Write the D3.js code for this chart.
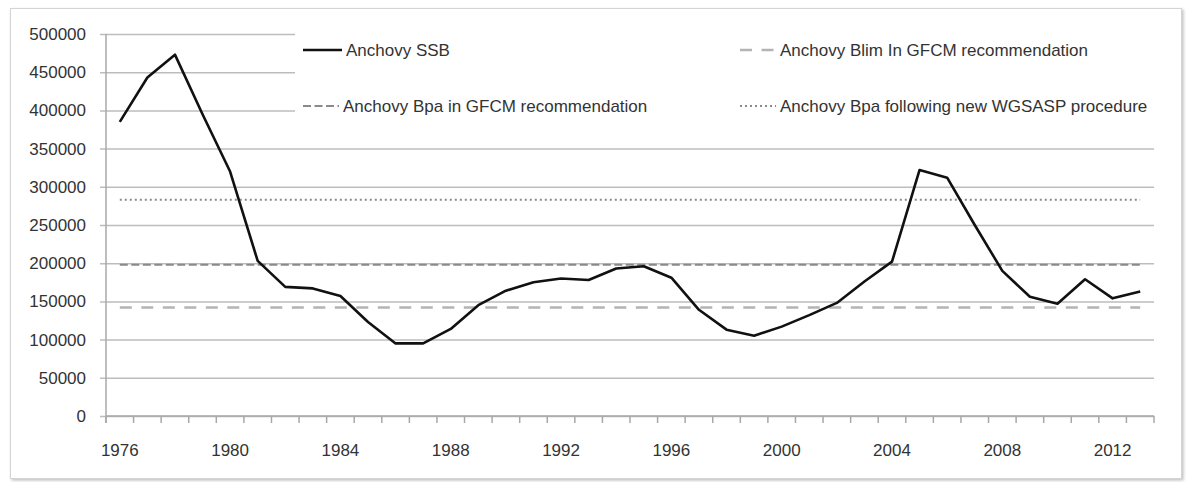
<!DOCTYPE html>
<html>
<head>
<meta charset="utf-8">
<script src="https://cdn.jsdelivr.net/npm/d3@7"></script>
<style>
  body { margin: 0; background: #fff; }
  svg text { font-family: "Liberation Sans", Arial, sans-serif; fill: #333; }
</style>
</head>
<body>
<svg id="chart" width="1186" height="482"></svg>
<script>
// years on the category axis
var years = d3.range(1976, 2014);

// spawning stock biomass
var ssb = [385000, 443000, 473000, 395000, 320000, 203000, 169000, 167000, 157000, 123000,
           95000, 95000, 114000, 145000, 164000, 175000, 180000, 178000, 193000, 196000,
           181000, 139000, 113000, 105000, 117000, 132000, 148000, 176000, 202000, 322000,
           312000, 250000, 190000, 156000, 147000, 179000, 154000, 163000];

// reference points
var refNames  = ["Anchovy Blim In GFCM recommendation", "Anchovy Bpa in GFCM recommendation", "Anchovy Bpa following new WGSASP procedure"];
var refValues = [142000, 198000, 283000];

var yTicks = [0, 50000, 100000, 150000, 200000, 250000, 300000, 350000, 400000, 450000, 500000];
var xLabelYears = [1976, 1980, 1984, 1988, 1992, 1996, 2000, 2004, 2008, 2012];

var margin = {left: 106, right: 32, top: 34, bottom: 66};
var W = 1186, H = 482;

var svg = d3.select("#chart");

var defs = svg.append("defs");
var f = defs.append("filter").attr("id", "shadow").attr("x", "-2%").attr("y", "-2%").attr("width", "104%").attr("height", "106%");
f.append("feDropShadow").attr("dx", 1.5).attr("dy", 1.5).attr("stdDeviation", 1.5).attr("flood-color", "#000").attr("flood-opacity", 0.25);

// frame
svg.append("rect")
    .attr("x", 10.5).attr("y", 8.5)
    .attr("width", 1171).attr("height", 470)
    .attr("fill", "#fff")
    .attr("stroke", "#d4d4d4")
    .attr("filter", "url(#shadow)");

var x = d3.scaleBand()
    .domain(years)
    .range([margin.left, W - margin.right]);

var y = d3.scaleLinear()
    .domain([0, 500000])
    .range([H - margin.bottom, margin.top]);

var cx = function(yr){ return x(yr) + x.bandwidth() / 2; };

// horizontal gridlines + y ticks
var yAxis = d3.axisLeft(y)
    .tickValues(yTicks)
    .tickSize(-(W - margin.right - margin.left) - 6)
    .tickSizeOuter(0)
    .tickPadding(14)
    .tickFormat(d3.format("d"));

var gy = svg.append("g")
    .attr("transform", "translate(" + (margin.left - 6) + ",0)")
    .call(yAxis);
gy.select(".domain").remove();
gy.selectAll(".tick line")
    .attr("stroke", "#bdbdbd")
    .attr("stroke-width", 1.5);
gy.selectAll(".tick text")
    .attr("x", -(14))
    .style("font-size", "17px");

// y axis line
svg.append("line")
    .attr("x1", margin.left).attr("x2", margin.left)
    .attr("y1", margin.top).attr("y2", y(0) + 7)
    .attr("stroke", "#a8a8a8").attr("stroke-width", 1.5);

// x axis: ticks at category boundaries
var bounds = years.map(function(d){ return x(d); }).concat([W - margin.right]);
svg.append("g").selectAll("line")
    .data(bounds)
    .enter().append("line")
    .attr("x1", function(d){ return d; })
    .attr("x2", function(d){ return d; })
    .attr("y1", y(0))
    .attr("y2", y(0) + 7)
    .attr("stroke", "#a8a8a8")
    .attr("stroke-width", 1.5);

svg.append("line")
    .attr("x1", margin.left).attr("x2", W - margin.right)
    .attr("y1", y(0)).attr("y2", y(0))
    .attr("stroke", "#a8a8a8").attr("stroke-width", 1.5);

svg.append("g").selectAll("text")
    .data(xLabelYears)
    .enter().append("text")
    .attr("x", function(d){ return cx(d); })
    .attr("y", y(0) + 40)
    .attr("text-anchor", "middle")
    .style("font-size", "17px")
    .text(function(d){ return d; });

// legend background hides the gridlines behind it
svg.append("rect")
    .attr("x", 295).attr("y", 20)
    .attr("width", 870).attr("height", 106)
    .attr("fill", "#fff");

var refStyles = [
    {color: "#b4b4b4", dash: "12,9.5", width: 2.5},
    {color: "#8a8a8a", dash: "8,3.5",  width: 2.2},
    {color: "#8a8a8a", dash: "2,3",    width: 2}
];

// reference lines
svg.append("g").selectAll("line")
    .data(refValues)
    .enter().append("line")
    .attr("x1", cx(years[0]))
    .attr("x2", cx(years[years.length - 1]))
    .attr("y1", function(d){ return y(d); })
    .attr("y2", function(d){ return y(d); })
    .attr("stroke", function(d, i){ return refStyles[i].color; })
    .attr("stroke-width", function(d, i){ return refStyles[i].width; })
    .attr("stroke-dasharray", function(d, i){ return refStyles[i].dash; });

// SSB line
var line = d3.line()
    .x(function(d, i){ return cx(years[i]); })
    .y(function(d){ return y(d); });

svg.append("path")
    .datum(ssb)
    .attr("d", line)
    .attr("fill", "none")
    .attr("stroke", "#111")
    .attr("stroke-width", 2.6)
    .attr("stroke-linejoin", "round");

// legend
var legendItems = [
    {name: "Anchovy SSB", x: 303, y: 50, color: "#111", dash: null, width: 2.6, w: 39},
    {name: refNames[1], x: 303, y: 106, color: refStyles[1].color, dash: "8,3.5", width: 2, w: 36},
    {name: refNames[0], x: 740, y: 50, color: refStyles[0].color, dash: "12,9.5", width: 2.5, w: 36},
    {name: refNames[2], x: 740, y: 106, color: refStyles[2].color, dash: "2,3", width: 2, w: 36}
];

var lg = svg.append("g").selectAll("g")
    .data(legendItems)
    .enter().append("g");

lg.append("line")
    .attr("x1", function(d){ return d.x; })
    .attr("x2", function(d){ return d.x + d.w; })
    .attr("y1", function(d){ return d.y; })
    .attr("y2", function(d){ return d.y; })
    .attr("stroke", function(d){ return d.color; })
    .attr("stroke-width", function(d){ return d.width; })
    .attr("stroke-dasharray", function(d){ return d.dash; });

lg.append("text")
    .attr("x", function(d){ return d.x + d.w + 4; })
    .attr("y", function(d){ return d.y + 6; })
    .style("font-size", "17px")
    .text(function(d){ return d.name; });
</script>
</body>
</html>
